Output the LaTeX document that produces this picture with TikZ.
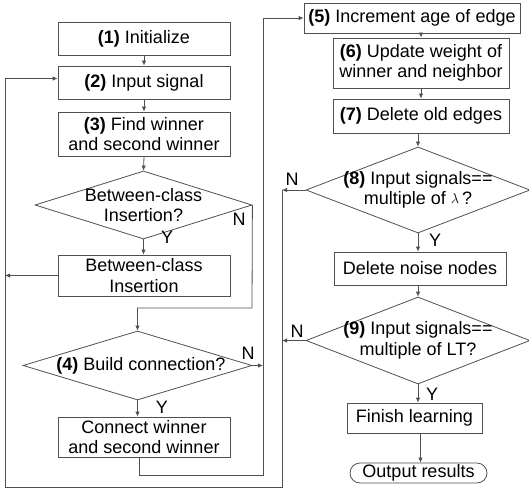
\documentclass[tikz,border=0pt]{standalone}
\usepackage{fontspec}
\setmainfont{Liberation Sans}
\usetikzlibrary{shapes.geometric,arrows.meta}
\definecolor{lc}{HTML}{505050}
\begin{document}
\begin{tikzpicture}[x=1pt,y=-1pt,
  every node/.style={font=\fontsize{18}{20.5}\selectfont, inner sep=0pt, align=center},
  box/.style={draw=lc, line width=0.8pt, rectangle},
  dia/.style={draw=lc, line width=0.8pt, diamond},
  term/.style={draw=lc, line width=0.8pt, rounded corners=10pt},
  conn/.style={draw=lc, line width=0.8pt},
  arr/.style={conn, -{Latex[length=5pt,width=4.5pt]}}]
\useasboundingbox (0,0) rectangle (529,489);
% left column
\node[box, minimum width=172pt, minimum height=33pt] (n1) at (144,38.5) {\textbf{(1)} Initialize};
\node[box, minimum width=172pt, minimum height=33pt] (n2) at (144,82.5) {\textbf{(2)} Input signal};
\node[box, minimum width=172pt, minimum height=44pt] (n3) at (144,134) {\textbf{(3)} Find winner\\and second winner};
\node[dia, minimum width=217pt, minimum height=68pt] (d1) at (143.5,205) {};
\node (d1t) at (d1) {Between-class\\Insertion?};
\node (d1y) at (167,237) {Y};
\node (d1n) at (239,219) {N};
\node[box, minimum width=172pt, minimum height=41pt] (n4) at (144,275.5) {Between-class\\Insertion};
\node[dia, minimum width=229pt, minimum height=69pt] (d2) at (137.5,365.5) {};
\node (d2t) at (141,365.5) {\textbf{(4)} Build connection?};
\node (d2y) at (162,407) {Y};
\node (d2n) at (248,353) {N};
\node[box, minimum width=172pt, minimum height=40pt] (n5) at (144,437) {Connect winner\\and second winner};
% right column
\node[box, minimum width=216pt, minimum height=30pt] (r5) at (412,18) {\textbf{(5)} Increment age of edge};
\node[box, minimum width=176pt, minimum height=50pt] (r6) at (421,63) {\textbf{(6)} Update weight of\\winner and neighbor};
\node[box, minimum width=176pt, minimum height=34pt] (r7) at (421,116) {\textbf{(7)} Delete old edges};
\node[dia, minimum width=224pt, minimum height=86pt] (d3) at (418,190) {};
\node (d3t) at (418,190) {\textbf{(8)} Input signals==\\multiple of \raisebox{1.5pt}{\fontsize{14}{14}\selectfont$\lambda$}\,?};
\node (d3y) at (435,240) {Y};
\node (d3n) at (292,179) {N};
\node[box, minimum width=172pt, minimum height=33pt] (r8) at (420,268.5) {Delete noise nodes};
\node[dia, minimum width=224pt, minimum height=87pt] (d4) at (418,340.5) {};
\node (d4t) at (418,340.5) {\textbf{(9)} Input signals==\\multiple of LT?};
\node (d4n) at (297,331) {N};
\node (d4y) at (432,394) {Y};
\node[box, minimum width=135pt, minimum height=30pt] (r9) at (414.5,418) {Finish learning};
\node[term, minimum width=137pt, minimum height=20pt] (r10) at (418.5,473) {Output results};
% junction coordinates
\coordinate (lb) at (5,487);
\coordinate (rb) at (282,487);
\coordinate (rl) at (282,190);
\coordinate (j1) at (252,308);
\coordinate (mb) at (263,475);
% left connectors
\draw[arr] (n1.south) -- (n2.north);
\draw[arr] (n2.south) -- (n3.north);
\draw[arr] (n3.south) -- (d1.north);
\draw[arr] (d1.south) -- (d1.south |- n4.north);
\draw[arr] (n4.west) -- (n4.west -| lb);
\draw[arr] (d1.east) -- (j1) -- (d2.north |- j1) -- (d2.north);
\draw[arr] (d2.south) -- (d2.south |- n5.north);
\draw[arr] (d2.east) -- (d2.east -| mb);
\draw[arr] ([xshift=-5pt]n5.south) |- (mb) -- (r5.west -| mb) -- (r5.west);
% right connectors
\draw[arr] (r6.north |- r5.south) -- (r6.north);
\draw[arr] (r6.south) -- (r7.north);
\draw[arr] (d3.north |- r7.south) -- (d3.north);
\draw[arr] (d3.south) -- (d3.south |- r8.north);
\draw[arr] (d4.north |- r8.south) -- (d4.north);
\draw[arr] (d3.west) -- (rl);
\draw[arr] (d4.west) -- (d4.west -| rl);
\draw[arr] (d4.south) -- (d4.south |- r9.north);
\draw[arr] ([xshift=2pt]r10.north |- r9.south) -- ([xshift=2pt]r10.north);
% feedback loop
\draw[arr] (rl) -- (rb) -- (lb) -- ([yshift=4pt]n2.west -| lb) -- ([yshift=4pt]n2.west);
\end{tikzpicture}
\end{document}
